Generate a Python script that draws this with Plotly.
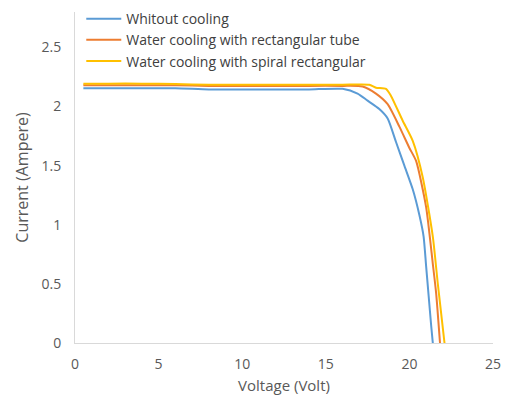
import plotly.graph_objects as go

v_blue = [0.5, 2, 4, 6, 8, 10, 12, 14, 16, 16.9, 17.5, 18.2, 18.7, 19.2, 19.7, 20.2, 20.6, 20.85, 21.0, 21.15, 21.3, 21.4]
i_blue = [2.155, 2.155, 2.155, 2.155, 2.145, 2.145, 2.145, 2.145, 2.15, 2.11, 2.05, 1.98, 1.90, 1.70, 1.50, 1.30, 1.08, 0.90, 0.65, 0.40, 0.15, 0.0]

v_orange = [0.5, 2, 4, 6, 8, 10, 12, 14, 16, 17.2, 18.0, 18.7, 19.4, 20.0, 20.4, 21.0, 21.4, 21.6, 21.83]
i_orange = [2.18, 2.18, 2.18, 2.18, 2.175, 2.175, 2.175, 2.175, 2.175, 2.17, 2.11, 2.02, 1.83, 1.65, 1.54, 1.15, 0.67, 0.42, 0.0]

v_yellow = [0.5, 2, 4, 6, 8, 10, 12, 14, 16, 17.6, 18.0, 18.6, 18.9, 19.6, 20.2, 20.8, 21.4, 21.7, 22.1]
i_yellow = [2.194, 2.194, 2.194, 2.19, 2.185, 2.185, 2.185, 2.185, 2.185, 2.185, 2.16, 2.15, 2.09, 1.88, 1.71, 1.40, 0.90, 0.50, 0.0]

names = ["Whitout cooling", "Water cooling with rectangular tube", "Water cooling with spiral rectangular"]
colors = ["#5B9BD5", "#ED7D31", "#FFC000"]

fig = go.Figure()
for vx, iy, n, c in zip([v_blue, v_orange, v_yellow], [i_blue, i_orange, i_yellow], names, colors):
    fig.add_trace(go.Scatter(x=vx, y=iy, mode="lines", name=n,
                             line=dict(color=c, width=2, shape="spline", smoothing=0.6)))

font = "Open Sans, Liberation Sans, sans-serif"
fig.update_layout(
    width=510, height=400,
    margin=dict(l=75, r=17, t=12, b=57, autoexpand=False),
    plot_bgcolor="white", paper_bgcolor="white",
    font=dict(family=font, size=14, color="#595959"),
    showlegend=True,
    legend=dict(x=0.015, y=1.027, xanchor="left", yanchor="top",
                bgcolor="rgba(0,0,0,0)", font=dict(size=14, color="#404040"),
                tracegroupgap=0, itemwidth=35),
    xaxis=dict(range=[0, 25], dtick=5, showgrid=False, zeroline=False, automargin=False,
               showline=True, linecolor="#d9d9d9", linewidth=1, ticks="",
               ticklabelstandoff=8, tickfont=dict(size=14),
               title=dict(text="Voltage (Volt)", standoff=8, font=dict(size=15, color="#595959"))),
    yaxis=dict(range=[0, 2.8], tickvals=[0, 0.5, 1, 1.5, 2, 2.5], ticktext=["0", "0.5", "1", "1.5", "2", "2.5"],
               showgrid=False, zeroline=False, automargin=False,
               showline=True, linecolor="#d9d9d9", linewidth=1, ticks="",
               ticklabelstandoff=10, tickfont=dict(size=14),
               title=dict(text="Current (Ampere)", standoff=8, font=dict(size=16, color="#595959"))),
)
fig.write_html("out.html")
